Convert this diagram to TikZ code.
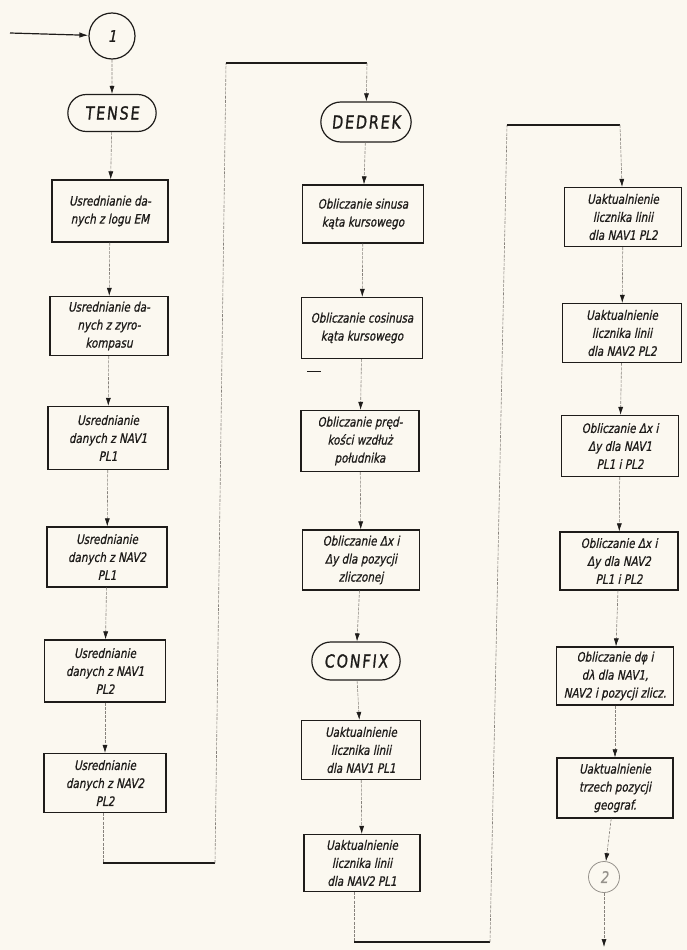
\documentclass[tikz,border=0pt]{standalone}
\usepackage{fontspec}
\newfontfamily\hand{DejaVu Sans}[FakeSlant=0.2,FakeStretch=0.8,FakeBold=0.8]
\newfontfamily\handcaps{DejaVu Sans}[FakeSlant=0.1,FakeStretch=0.8,FakeBold=1,LetterSpace=10]
\usetikzlibrary{arrows.meta,shapes.misc}
\definecolor{paper}{RGB}{251,248,240}
\definecolor{ink}{RGB}{30,28,26}
\definecolor{flow}{RGB}{135,130,124}
\definecolor{faded}{RGB}{150,146,140}

\tikzset{
  procbox/.style={draw=ink, line width=1.2pt, rectangle, align=center, text=ink,
    inner sep=1pt, font=\hand\fontsize{13}{18}\selectfont},
  terminal/.style={draw=ink, line width=1.2pt, rounded rectangle, text=ink,
    font=\handcaps\fontsize{18}{20}\selectfont},
  connector/.style={draw=ink, line width=1.2pt, circle, text=ink,
    font=\hand\fontsize{16}{18}\selectfont},
  flowline/.style={draw=flow, line width=0.6pt, dash pattern=on 3pt off 1.2pt},
  flowarrow/.style={flowline, -{Latex[length=8pt,width=5pt,color=ink]}},
  returnline/.style={draw=ink, line width=1.2pt}
}

\begin{document}
\begin{tikzpicture}[x=1pt,y=-1pt]
  \fill[paper] (0,0) rectangle (687,950);
  \useasboundingbox (0,0) rectangle (687,950);

  % ---------------- column 1: TENSE ----------------
  \coordinate (entry) at (10,33);
  \node[connector, minimum size=46] (c1) at (112,36) {1};
  \node[terminal, minimum width=95, minimum height=37] (tense) at (112,113) {TENSE};
  \node[procbox, minimum width=116, minimum height=62] (b11) at (110,211)
    {Usrednianie da-\\nych z logu EM};
  \node[procbox, minimum width=118, minimum height=59] (b12) at (109,326)
    {Usrednianie da-\\nych z zyro-\\kompasu};
  \node[procbox, minimum width=120, minimum height=63] (b13) at (108,438)
    {Usrednianie\\danych z NAV1\\PL1};
  \node[procbox, minimum width=120, minimum height=60] (b14) at (107,557)
    {Usrednianie\\danych z NAV2\\PL1};
  \node[procbox, minimum width=121, minimum height=62] (b15) at (105,671)
    {Usrednianie\\danych z NAV1\\PL2};
  \node[procbox, minimum width=122, minimum height=59] (b16) at (105,783)
    {Usrednianie\\danych z NAV2\\PL2};

  \draw[returnline, -{Latex[length=9pt,width=5.5pt]}] (entry) -- (c1);
  \draw[flowarrow] (c1) -- (tense);
  \draw[flowarrow] (tense) -- (b11);
  \draw[flowarrow] (b11) -- (b12);
  \draw[flowarrow] (b12) -- (b13);
  \draw[flowarrow] (b13) -- (b14);
  \draw[flowarrow] (b14) -- (b15);
  \draw[flowarrow] (b15) -- (b16);

  % return path to column 2
  \coordinate (r1a) at (103,863);
  \coordinate (r1b) at (215,863);
  \coordinate (r1c) at (226,63);
  \coordinate (r1d) at (367,63);
  \draw[flowline] (b16.south -| r1a) -- (r1a);
  \draw[returnline] (r1a) -- (r1b);
  \draw[flowline] (r1b) -- (r1c);
  \draw[returnline] (r1c) -- (r1d);

  % ---------------- column 2: DEDREK / CONFIX ----------------
  \node[terminal, minimum width=97, minimum height=40] (dedrek) at (366,122) {DEDREK};
  \node[procbox, minimum width=121, minimum height=58] (b21) at (363,214)
    {Obliczanie sinusa\\kąta kursowego};
  \node[procbox, minimum width=121, minimum height=61] (b22) at (362,328)
    {Obliczanie cosinusa\\kąta kursowego};
  \node[procbox, minimum width=118, minimum height=61] (b23) at (360,441)
    {Obliczanie pręd-\\kości wzdłuż\\południka};
  \node[procbox, minimum width=117, minimum height=60] (b24) at (361,560)
    {Obliczanie Δx i\\Δy dla pozycji\\zliczonej};
  \node[terminal, minimum width=95, minimum height=38] (confix) at (356,661) {CONFIX};
  \node[procbox, minimum width=119, minimum height=59] (b25) at (361,750)
    {Uaktualnienie\\licznika linii\\dla NAV1 PL1};
  \node[procbox, minimum width=116, minimum height=57] (b26) at (362,863)
    {Uaktualnienie\\licznika linii\\dla NAV2 PL1};

  % short pen stroke beside the cosine box
  \draw[ink, line width=0.8pt] (307,371) -- (321,371);

  \draw[flowarrow] (r1d) -- (dedrek);
  \draw[flowarrow] (dedrek) -- (b21);
  \draw[flowarrow] (b21) -- (b22);
  \draw[flowarrow] (b22) -- (b23);
  \draw[flowarrow] (b23) -- (b24);
  \draw[flowarrow] (b24) -- (confix);
  \draw[flowarrow] (confix) -- (b25);
  \draw[flowarrow] (b25) -- (b26);

  % return path to column 3
  \coordinate (r2a) at (354,942);
  \coordinate (r2b) at (490,942);
  \coordinate (r2c) at (507,125);
  \coordinate (r2d) at (620,125);
  \draw[flowline] (b26.south -| r2a) -- (r2a);
  \draw[returnline] (r2a) -- (r2b);
  \draw[flowline] (r2b) -- (r2c);
  \draw[returnline] (r2c) -- (r2d);

  % ---------------- column 3 ----------------
  \node[procbox, minimum width=117, minimum height=59] (b31) at (623,217)
    {Uaktualnienie\\licznika linii\\dla NAV1 PL2};
  \node[procbox, minimum width=119, minimum height=59] (b32) at (622,333)
    {Uaktualnienie\\licznika linii\\dla NAV2 PL2};
  \node[procbox, minimum width=117, minimum height=61] (b33) at (620,446)
    {Obliczanie Δx i\\Δy dla NAV1\\PL1 i PL2};
  \node[procbox, minimum width=118, minimum height=58] (b34) at (619,561)
    {Obliczanie Δx i\\Δy dla NAV2\\PL1 i PL2};
  \node[procbox, minimum width=117, minimum height=58] (b35) at (615,676)
    {Obliczanie dφ i\\dλ dla NAV1,\\NAV2 i pozycji zlicz.};
  \node[procbox, minimum width=116, minimum height=60] (b36) at (615,788)
    {Uaktualnienie\\trzech pozycji\\geograf.};
  \node[connector, draw=faded, text=faded, line width=0.8pt, minimum size=31] (c2) at (604,877) {2};
  \coordinate (exit) at (604,947);

  \draw[flowarrow] (r2d) -- (b31);
  \draw[flowarrow] (b31) -- (b32);
  \draw[flowarrow] (b32) -- (b33);
  \draw[flowarrow] (b33) -- (b34);
  \draw[flowarrow] (b34) -- (b35);
  \draw[flowarrow] (b35) -- (b36);
  \draw[flowarrow] (b36) -- (c2);
  \draw[flowarrow] (c2) -- (exit);
\end{tikzpicture}
\end{document}
